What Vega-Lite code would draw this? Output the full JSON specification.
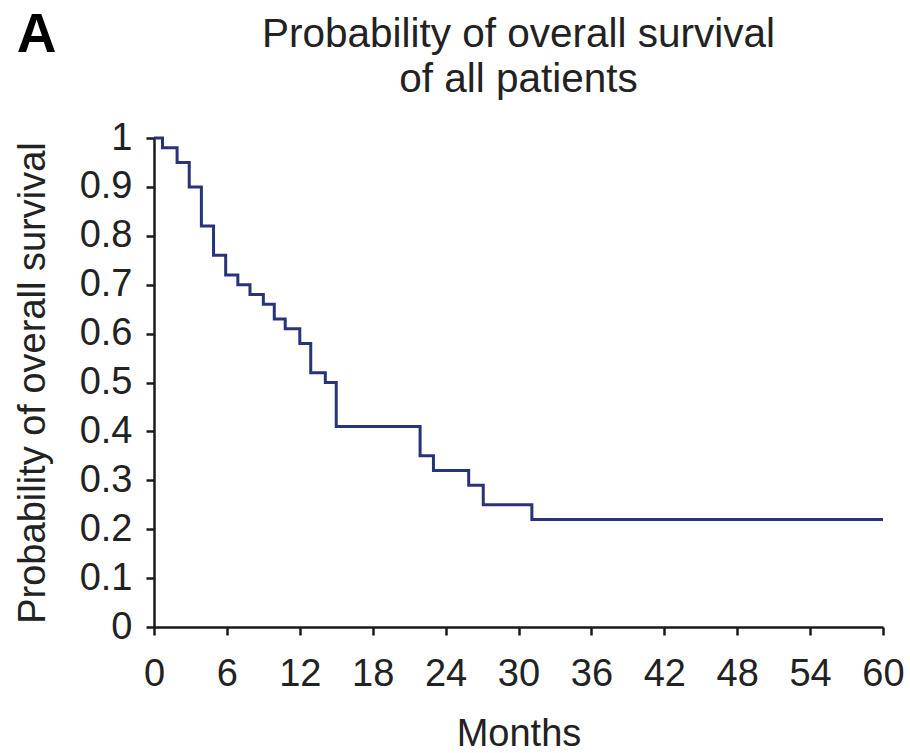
{
  "$schema": "https://vega.github.io/schema/vega-lite/v6.json",
  "width": 729,
  "height": 489,
  "autosize": {"type": "none"},
  "padding": {"left": 154, "top": 138, "right": 27, "bottom": 126},
  "background": "white",
  "config": {
    "view": {"stroke": null},
    "font": "Liberation Sans",
    "axis": {"grid": false, "domainColor": "#1a1a1a", "domainWidth": 2.5, "tickColor": "#1a1a1a", "tickWidth": 2.5, "tickSize": 8, "labelFont": "Liberation Sans", "labelFontSize": 38, "labelColor": "#222222", "titleFont": "Liberation Sans", "titleFontSize": 38, "titleFontWeight": "normal", "titleColor": "#222222", "labelFlush": false, "labelOverlap": false}
  },
  "title": {
    "text": ["Probability of overall survival", "of all patients"],
    "fontSize": 40.5,
    "fontWeight": "normal",
    "color": "#222222",
    "font": "Liberation Sans",
    "anchor": "middle",
    "frame": "group",
    "lineHeight": 45,
    "offset": -92
  },
  "layer": [
    {
      "data": {"values": [
        {"month": 0, "survival": 1.0},
        {"month": 0.7, "survival": 0.98},
        {"month": 1.9, "survival": 0.95},
        {"month": 2.9, "survival": 0.90},
        {"month": 3.9, "survival": 0.82},
        {"month": 4.9, "survival": 0.76},
        {"month": 5.9, "survival": 0.72},
        {"month": 6.9, "survival": 0.70},
        {"month": 7.9, "survival": 0.68},
        {"month": 9.0, "survival": 0.66},
        {"month": 9.9, "survival": 0.63},
        {"month": 10.8, "survival": 0.61},
        {"month": 12.0, "survival": 0.58},
        {"month": 12.9, "survival": 0.52},
        {"month": 14.1, "survival": 0.50},
        {"month": 15.0, "survival": 0.41},
        {"month": 21.9, "survival": 0.35},
        {"month": 23.0, "survival": 0.32},
        {"month": 25.9, "survival": 0.29},
        {"month": 27.1, "survival": 0.25},
        {"month": 31.1, "survival": 0.22},
        {"month": 60, "survival": 0.22}
      ]},
      "mark": {"type": "line", "interpolate": "step-after", "color": "#28337a", "strokeWidth": 3},
      "encoding": {
        "x": {"field": "month", "type": "quantitative", "scale": {"domain": [0, 60], "nice": false, "zero": false},
          "axis": {"values": [0, 6, 12, 18, 24, 30, 36, 42, 48, 54, 60], "title": "Months", "labelPadding": 20, "titlePadding": 22}},
        "y": {"field": "survival", "type": "quantitative", "scale": {"domain": [0, 1], "nice": false},
          "axis": {"values": [0, 0.1, 0.2, 0.3, 0.4, 0.5, 0.6, 0.7, 0.8, 0.9, 1], "format": ".1~f", "title": "Probability of overall survival", "labelPadding": 14, "titlePadding": 27}}
      }
    },
    {
      "data": {"values": [{"panel": "A", "month": -11.3, "survival": 1.175}]},
      "mark": {"type": "text", "align": "left", "baseline": "alphabetic", "fontSize": 55, "fontWeight": "bold", "font": "Liberation Sans", "color": "#000000"},
      "encoding": {
        "x": {"field": "month", "type": "quantitative"},
        "y": {"field": "survival", "type": "quantitative"},
        "text": {"field": "panel"}
      }
    }
  ]
}
